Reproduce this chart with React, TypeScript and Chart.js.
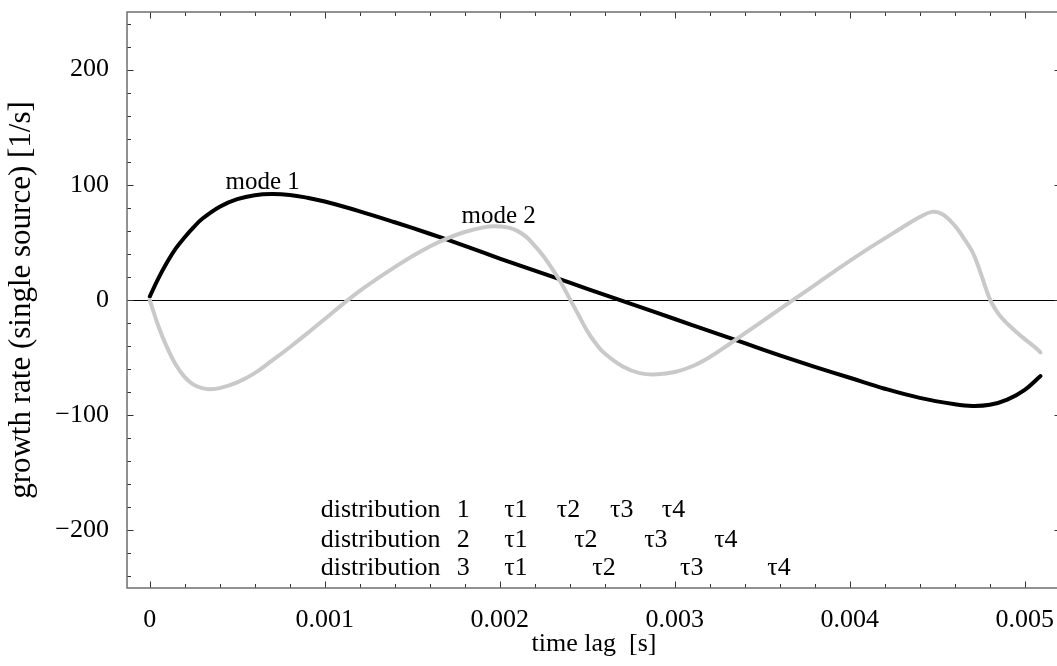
import React, { useEffect, useRef } from "react";
import { Chart, registerables } from "chart.js";

Chart.register(...registerables);

// ---- data (time lag in s, growth rate in 1/s) ----
const mode1Time = [0, 0.00005, 0.0001, 0.00015, 0.0002, 0.00025, 0.0003, 0.0004, 0.0005, 0.0006, 0.0007, 0.0008, 0.0009, 0.001, 0.0012, 0.0014, 0.0016, 0.0018, 0.002, 0.0022, 0.0024, 0.0026, 0.0028, 0.003, 0.0032, 0.0034, 0.0036, 0.0038, 0.004, 0.0042, 0.0044, 0.0046, 0.0047, 0.0048, 0.0049, 0.005, 0.00509];
const mode1Rate = [3, 19, 33, 45, 54.5, 63, 70.5, 81, 87.5, 91, 92, 91.2, 88.8, 85.5, 77, 67.5, 57.5, 47, 36, 25.5, 15, 4.5, -6, -16.5, -27, -37.5, -48, -58, -67.5, -77, -85, -90.5, -92, -91, -86.5, -78, -66];

const mode2Time = [0, 0.00005, 0.0001, 0.00015, 0.0002, 0.00025, 0.0003, 0.00034, 0.0004, 0.0005, 0.0006, 0.0007, 0.0008, 0.0009, 0.001, 0.0011, 0.0012, 0.0013, 0.0014, 0.0015, 0.0016, 0.0017, 0.0018, 0.0019, 0.00197, 0.00205, 0.0021, 0.00215, 0.0022, 0.00225, 0.0023, 0.00235, 0.0024, 0.00245, 0.0025, 0.00255, 0.0026, 0.0027, 0.0028, 0.0029, 0.003, 0.0031, 0.0032, 0.0033, 0.0034, 0.0035, 0.0036, 0.0037, 0.0038, 0.0039, 0.004, 0.0041, 0.0042, 0.0043, 0.0044, 0.00447, 0.00453, 0.0046, 0.00465, 0.0047, 0.00473, 0.00476, 0.00478, 0.0048, 0.00482, 0.00485, 0.00488, 0.0049, 0.00495, 0.005, 0.00505, 0.00509];
const mode2Rate = [0, -23, -41.5, -56.5, -67, -73.5, -76.5, -77.4, -76.5, -71.5, -63.5, -52.5, -41, -29, -16.5, -4, 8, 18.5, 28.5, 38, 46.5, 53.5, 59, 62.8, 64, 62.8, 60, 55, 47, 38, 27, 15, 1, -13, -27, -38, -46.5, -57.5, -63.5, -64.5, -62.5, -57.5, -49.5, -39.5, -29, -18.5, -8, 2.5, 13, 23.5, 34, 44, 53.5, 63, 72, 76.5, 74.5, 64.5, 54, 42, 31, 18, 9, 1, -5, -12, -17.5, -20.5, -27.5, -34, -40, -45.5];

// ---- axes ----
const xTickValues = [0, 0.001, 0.002, 0.003, 0.004, 0.005];
const xTickLabels = ["0", "0.001", "0.002", "0.003", "0.004", "0.005"];
const yTickValues = [-200, -100, 0, 100, 200];
const yTickLabels = ["\u2212200", "\u2212100", "0", "100", "200"];
const xMinorStep = 0.0002;
const yMinorStep = 20;
const xTitle = "time lag  [s]";
const yTitle = "growth rate (single source) [1/s]";

// ---- annotations ----
const modeLabels = ["mode 1", "mode 2"];
const modeLabelTime = [0.000645, 0.001994];
const modeLabelRate = [96, 67];
const distributionNames = ["1", "2", "3"];
const distributionRate = [-188.5, -214, -238.5];
const distributionTextTime = 0.000977;
const distributionNumberTime = 0.001754;
const tauLabels = ["\u03c41", "\u03c42", "\u03c43", "\u03c44"];
const tauTimes1 = [0.002025, 0.002326, 0.00263, 0.002926];
const tauTimes2 = [0.002025, 0.002425, 0.002825, 0.003225];
const tauTimes3 = [0.002025, 0.002529, 0.00303, 0.003529];

const FONT = "'Liberation Serif', 'Times New Roman', Times, serif";

const decorPlugin = {
  id: "decor",
  beforeDatasetsDraw(chart: any) {
    const { ctx, chartArea: a, scales } = chart;
    const y0 = Math.round(scales.y.getPixelForValue(0)) + 0.5;
    ctx.save();
    ctx.strokeStyle = "#000";
    ctx.lineWidth = 1;
    ctx.beginPath();
    ctx.moveTo(a.left, y0);
    ctx.lineTo(a.right, y0);
    ctx.stroke();
    ctx.restore();
  },
  afterDatasetsDraw(chart: any) {
    const { ctx, chartArea: a, scales } = chart;
    const xs = scales.x;
    const ys = scales.y;
    ctx.save();
    // ticks (inward, all four sides)
    ctx.strokeStyle = "#333";
    ctx.lineWidth = 1;
    ctx.beginPath();
    const iMin = Math.ceil(xs.min / xMinorStep - 1e-9);
    const iMax = Math.floor(xs.max / xMinorStep + 1e-9);
    for (let i = iMin; i <= iMax; i++) {
      const len = i % 5 === 0 ? 6.5 : 4;
      const px = Math.round(xs.getPixelForValue(i * xMinorStep)) + 0.5;
      ctx.moveTo(px, a.bottom);
      ctx.lineTo(px, a.bottom - len);
      ctx.moveTo(px, a.top);
      ctx.lineTo(px, a.top + len);
    }
    const jMin = Math.ceil(ys.min / yMinorStep - 1e-9);
    const jMax = Math.floor(ys.max / yMinorStep + 1e-9);
    for (let j = jMin; j <= jMax; j++) {
      const len = j % 5 === 0 ? 6.5 : 4;
      const py = Math.round(ys.getPixelForValue(j * yMinorStep)) + 0.5;
      ctx.moveTo(a.left, py);
      ctx.lineTo(a.left + len, py);
      ctx.moveTo(a.right, py);
      ctx.lineTo(a.right - len, py);
    }
    ctx.stroke();
    // frame
    ctx.strokeStyle = "#6e6e6e";
    ctx.lineWidth = 1.5;
    ctx.strokeRect(a.left, a.top, a.right - a.left, a.bottom - a.top);

    // annotations
    ctx.fillStyle = "#000";
    ctx.textBaseline = "alphabetic";
    ctx.textAlign = "center";
    ctx.font = `25px ${FONT}`;
    modeLabels.forEach((t, k) => {
      ctx.fillText(t, xs.getPixelForValue(modeLabelTime[k]), ys.getPixelForValue(modeLabelRate[k]));
    });
    ctx.textAlign = "left";
    ctx.font = `26px ${FONT}`;
    const tauRows = [tauTimes1, tauTimes2, tauTimes3];
    distributionNames.forEach((n, k) => {
      const py = ys.getPixelForValue(distributionRate[k]);
      ctx.fillText("distribution", xs.getPixelForValue(distributionTextTime), py);
      ctx.fillText(n, xs.getPixelForValue(distributionNumberTime), py);
      tauRows[k].forEach((tv, m) => {
        ctx.fillText(tauLabels[m], xs.getPixelForValue(tv), py);
      });
    });
    ctx.restore();
  },
};

export default function App() {
  const ref = useRef<HTMLCanvasElement | null>(null);
  useEffect(() => {
    if (!ref.current) return;
    const chart = new Chart(ref.current, {
      type: "line",
      data: {
        datasets: [
          {
            label: "mode 2",
            data: mode2Time.map((t, i) => ({ x: t, y: mode2Rate[i] })),
            borderColor: "#c9c9c9",
            borderWidth: 4,
            pointRadius: 0,
            tension: 0.4,
            borderCapStyle: "round",
            borderJoinStyle: "round",
            fill: false,
          },
          {
            label: "mode 1",
            data: mode1Time.map((t, i) => ({ x: t, y: mode1Rate[i] })),
            borderColor: "#000",
            borderWidth: 4,
            pointRadius: 0,
            tension: 0.4,
            borderCapStyle: "round",
            borderJoinStyle: "round",
            fill: false,
          },
        ],
      },
      options: {
        animation: false,
        responsive: false,
        devicePixelRatio: 1,
        layout: { padding: { top: 12, right: 1, bottom: 0, left: 0 } },
        plugins: { legend: { display: false }, tooltip: { enabled: false } },
        scales: {
          x: {
            type: "linear",
            min: -0.00013,
            max: 0.005207,
            grid: { display: false, drawTicks: false },
            border: { display: false },
            afterBuildTicks: (s: any) => {
              s.ticks = xTickValues.map((v) => ({ value: v }));
            },
            afterFit: (s: any) => {
              s.height = 78;
              s.paddingLeft = 0;
              s.paddingRight = 0;
            },
            ticks: {
              autoSkip: false,
              maxRotation: 0,
              minRotation: 0,
              padding: 17,
              color: "#000",
              font: { family: FONT, size: 26 },
              callback: (_v: any, i: number) => xTickLabels[i],
            },
            title: {
              display: true,
              text: xTitle,
              color: "#000",
              font: { family: FONT, size: 26 },
              padding: { top: 0, bottom: 6 },
            },
          },
          y: {
            type: "linear",
            min: -250,
            max: 250,
            grid: { display: false, drawTicks: false },
            border: { display: false },
            afterBuildTicks: (s: any) => {
              s.ticks = yTickValues.map((v) => ({ value: v }));
            },
            afterFit: (s: any) => {
              s.width = 127;
              s.paddingTop = 0;
              s.paddingBottom = 0;
            },
            ticks: {
              autoSkip: false,
              padding: 18,
              color: "#000",
              font: { family: FONT, size: 26 },
              callback: (_v: any, i: number) => yTickLabels[i],
            },
            title: {
              display: true,
              text: yTitle,
              color: "#000",
              font: { family: FONT, size: 31 },
              padding: { top: 3, bottom: 0 },
            },
          },
        },
      },
      plugins: [decorPlugin],
    } as any);
    return () => chart.destroy();
  }, []);
  return (
    <div
      style={{
        position: "fixed",
        left: 0,
        top: 0,
        width: 1057,
        height: 666,
        overflow: "hidden",
        background: "#fff",
      }}
    >
      <canvas ref={ref} width={1062} height={666} style={{ display: "block" }} />
    </div>
  );
}
